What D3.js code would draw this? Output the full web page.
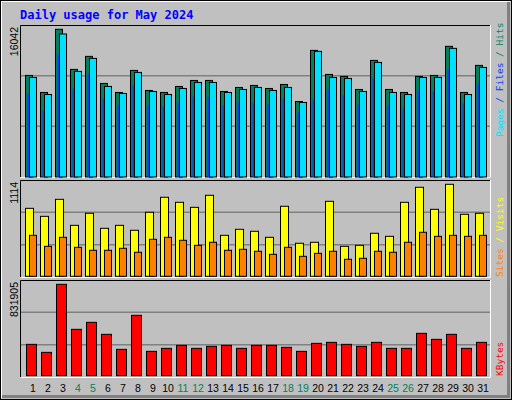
<!DOCTYPE html>
<html><head><meta charset="utf-8">
<script src="https://cdn.jsdelivr.net/npm/d3@7"></script>
<style>body{margin:0;background:#fff}</style>
</head><body>
<svg id="chart" width="512" height="400"></svg>
<script>
const days = d3.range(1, 32);
const weekends = [4, 5, 11, 12, 18, 19, 25, 26];
const hits = [11033, 9182, 16042, 11686, 13101, 10162, 9182, 11577, 9399, 9182, 9835, 10488, 10488, 9290, 9726, 9944, 9617, 10052, 8202, 13754, 11141, 10923, 9508, 12665, 9508, 9182, 10923, 11033, 14190, 9182, 12121];
const pages = [10814, 8964, 15532, 11468, 12883, 9835, 9073, 11359, 9290, 8964, 9617, 10270, 10270, 9181, 9508, 9726, 9399, 9726, 8093, 13645, 10814, 10706, 9290, 12447, 9181, 8964, 10814, 10814, 13972, 8964, 11903];
const files = [9073, 7222, 13318, 9617, 11250, 8528, 7766, 9943, 7766, 7657, 8093, 8746, 8637, 7766, 8093, 8093, 7875, 8528, 7004, 8419, 9508, 8855, 7875, 10706, 7766, 7439, 9399, 9290, 11685, 7984, 10161];
const visits = [823, 726, 932, 617, 763, 581, 617, 557, 775, 957, 896, 835, 981, 496, 569, 545, 472, 848, 400, 412, 908, 363, 375, 521, 484, 896, 1078, 811, 1114, 751, 763];
const sites = [496, 363, 472, 351, 315, 315, 339, 291, 448, 472, 436, 375, 412, 315, 327, 303, 266, 351, 242, 278, 303, 206, 218, 303, 291, 412, 533, 484, 496, 484, 496];
const kbytes = [285384, 212520, 831905, 422004, 485760, 376464, 239844, 549516, 221628, 248952, 276276, 248952, 267168, 276276, 248952, 276276, 276276, 258060, 221628, 294492, 303600, 285384, 267168, 303600, 248952, 248952, 385572, 330924, 376464, 248952, 303600];

const svg = d3.select('#chart');
svg.append('rect').attr('width', 512).attr('height', 400).attr('fill', '#c0c0c0');
svg.append('rect').attr('x', 0.5).attr('y', 0.5).attr('width', 511).attr('height', 399).attr('fill', 'none').attr('stroke', '#000');
svg.append('path').attr('d', 'M1.5,398V1.5H510').attr('fill', 'none').attr('stroke', '#fff');
svg.append('path').attr('d', 'M2,396.5H508.5V2').attr('fill', 'none').attr('stroke', '#808080').attr('stroke-width', 3);

svg.append('text').attr('x', 20).attr('y', 19).attr('fill', '#0000ff')
  .style('font', 'bold 12px "DejaVu Sans Mono", monospace').text('Daily usage for May 2024');

const x = d3.scaleLinear().domain([1, 32]).range([25, 490]);

const panels = [
  {top: 25, bottom: 177, max: 16042, label: '16042', range: [177, 29.3]},
  {top: 180, bottom: 277, max: 1114, label: '1114', range: [276.3, 184.3]},
  {top: 280, bottom: 377, max: 831905, label: '831905', range: [375.7, 284.3]}
];
panels.forEach(p => {
  p.y = d3.scaleLinear().domain([0, p.max]).range(p.range);
  const h = p.bottom - p.top;
  [1 / 3, 2 / 3].forEach(f => svg.append('line').attr('x1', 20).attr('x2', 490)
    .attr('y1', p.top + h * f).attr('y2', p.top + h * f).attr('stroke', '#808080').attr('stroke-width', 1.5));
  svg.append('path').attr('d', `M20.5,${p.bottom}V${p.top + 0.5}H490`).attr('fill', 'none').attr('stroke', '#000');
  svg.append('path').attr('d', `M20.5,${p.bottom + 0.5}H490.5V${p.top}`).attr('fill', 'none').attr('stroke', '#fff');
  svg.append('text').attr('transform', `translate(18,${p.top + 2}) rotate(-90)`).attr('text-anchor', 'end')
    .style('font', '10.5px "Liberation Sans", sans-serif').attr('fill', '#000').text(p.label);
});

function bars(data, p, dx, w, color, stroke) {
  svg.append('g').selectAll('rect').data(data).join('rect')
    .attr('x', (d, i) => x(days[i]) + dx + 0.5).attr('y', d => p.y(d))
    .attr('width', w).attr('height', d => p.y(0) - p.y(d))
    .attr('fill', color).attr('stroke', stroke ? '#000' : 'none');
}
bars(hits, panels[0], 0, 7, '#00805c', true);
bars(pages, panels[0], 4, 7, '#00e0ff', true);
bars(files, panels[0], 2, 1.5, '#0040ff', false);
bars(visits, panels[1], 0, 8, '#ffff00', true);
bars(sites, panels[1], 4, 7, '#ff8000', true);
bars(kbytes, panels[2], 1, 10, '#ff0000', true);

svg.append('g').selectAll('text').data(days).join('text')
  .attr('x', d => x(d) + 8).attr('y', 392).attr('text-anchor', 'middle')
  .attr('fill', d => weekends.includes(d) ? '#00805c' : '#000')
  .style('font', '10.5px "Liberation Sans", sans-serif').text(d => d);

function sideLabel(y, parts) {
  const t = svg.append('text').attr('transform', `translate(503,${y}) rotate(-90)`)
    .style('font', '9.5px "DejaVu Sans Mono", monospace');
  parts.forEach(([s, c]) => t.append('tspan').attr('fill', c).text(s));
}
sideLabel(137, [['Pages', '#00e0ff'], [' / ', '#0040ff'], ['Files', '#0040ff'], [' / ', '#00805c'], ['Hits', '#00805c']]);
sideLabel(277, [['Sites', '#ff8000'], [' / ', '#ffff00'], ['Visits', '#ffff00']]);
sideLabel(376, [['KBytes', '#ff0000']]);
</script>
</body></html>
